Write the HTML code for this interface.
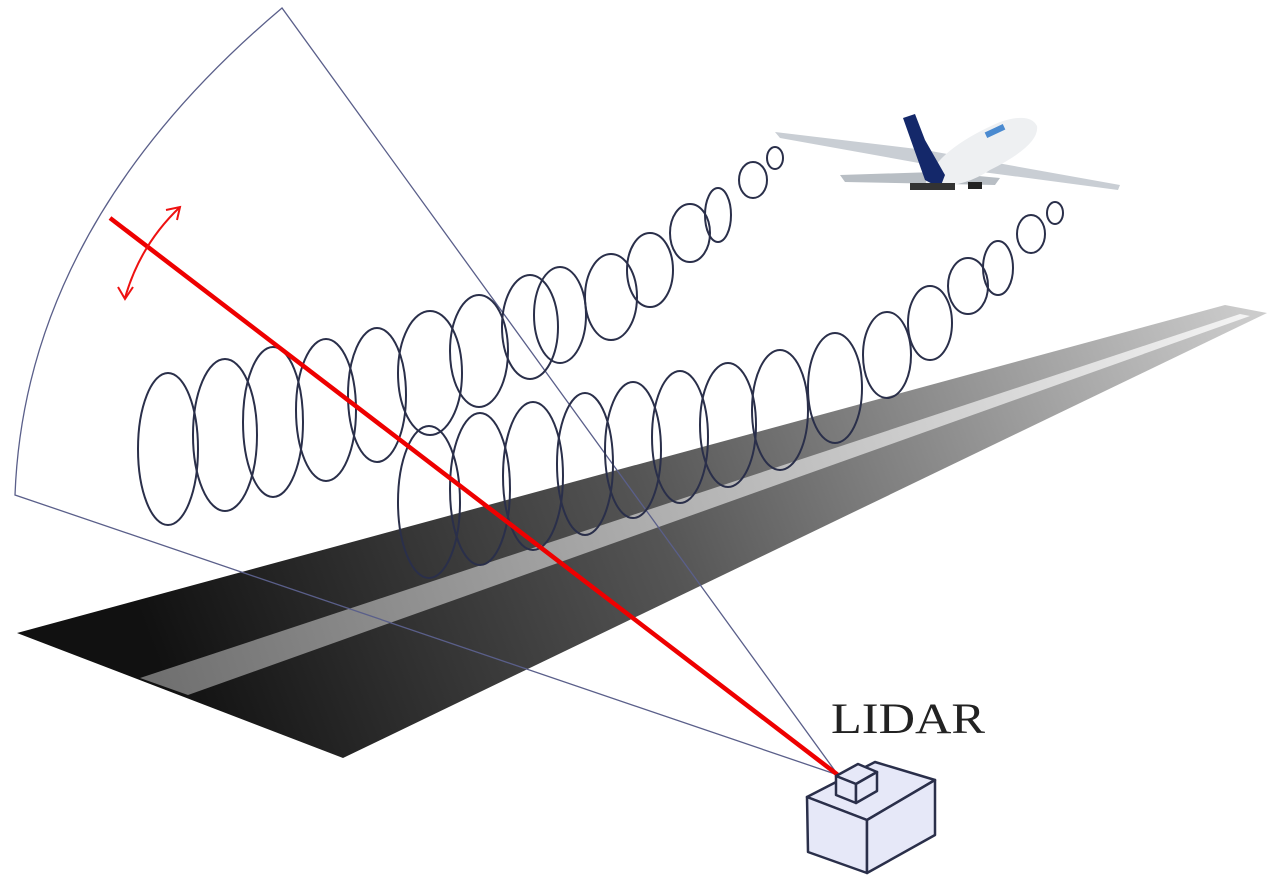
<!DOCTYPE html>
<html><head><meta charset="utf-8"><style>html,body{margin:0;padding:0;background:#fff}svg{display:block}</style></head>
<body>
<svg width="1280" height="884" viewBox="0 0 1280 884" xmlns="http://www.w3.org/2000/svg">
<defs>
<linearGradient id="rw" x1="180" y1="720" x2="1250" y2="310" gradientUnits="userSpaceOnUse">
<stop offset="0" stop-color="#111"/><stop offset="0.45" stop-color="#555"/><stop offset="1" stop-color="#cccccc"/>
</linearGradient>
<linearGradient id="st" x1="160" y1="685" x2="1250" y2="315" gradientUnits="userSpaceOnUse">
<stop offset="0" stop-color="#707070"/><stop offset="0.5" stop-color="#b5b5b5"/><stop offset="1" stop-color="#f4f4f4"/>
</linearGradient>
</defs>
<polygon points="17,633 343,758 1267,313 1225,305" fill="url(#rw)"/>
<polygon points="140,678 188,695 1250,316 1240,314" fill="url(#st)"/>
<g fill="none" stroke="#5a5f8a" stroke-width="1.3">
<path d="M838,775 L15,495 Q25,225 282,8 L838,775"/>
</g>
<g fill="none" stroke="#2a2f4a" stroke-width="2">
<ellipse cx="168" cy="449" rx="30" ry="76"/>
<ellipse cx="225" cy="435" rx="32" ry="76"/>
<ellipse cx="273" cy="422" rx="30" ry="75"/>
<ellipse cx="326" cy="410" rx="30" ry="71"/>
<ellipse cx="377" cy="395" rx="29" ry="67"/>
<ellipse cx="430" cy="373" rx="32" ry="62"/>
<ellipse cx="479" cy="351" rx="29" ry="56"/>
<ellipse cx="530" cy="327" rx="28" ry="52"/>
<ellipse cx="611" cy="297" rx="26" ry="43"/>
<ellipse cx="560" cy="315" rx="26" ry="48"/>
<ellipse cx="650" cy="270" rx="23" ry="37"/>
<ellipse cx="690" cy="233" rx="20" ry="29"/>
<ellipse cx="718" cy="215" rx="13" ry="27"/>
<ellipse cx="753" cy="180" rx="14" ry="18"/>
<ellipse cx="775" cy="158" rx="8" ry="11"/>
<ellipse cx="429" cy="502" rx="31" ry="76"/>
<ellipse cx="480" cy="489" rx="30" ry="76"/>
<ellipse cx="533" cy="476" rx="30" ry="74"/>
<ellipse cx="585" cy="464" rx="28" ry="71"/>
<ellipse cx="633" cy="450" rx="28" ry="68"/>
<ellipse cx="680" cy="437" rx="28" ry="66"/>
<ellipse cx="728" cy="425" rx="28" ry="62"/>
<ellipse cx="780" cy="410" rx="28" ry="60"/>
<ellipse cx="835" cy="388" rx="27" ry="55"/>
<ellipse cx="887" cy="355" rx="24" ry="43"/>
<ellipse cx="930" cy="323" rx="22" ry="37"/>
<ellipse cx="968" cy="286" rx="20" ry="28"/>
<ellipse cx="998" cy="268" rx="15" ry="27"/>
<ellipse cx="1031" cy="234" rx="14" ry="19"/>
<ellipse cx="1055" cy="213" rx="8" ry="11"/>
</g>
<line x1="110" y1="218" x2="838" y2="775" stroke="#ee0000" stroke-width="4.5"/>
<g fill="none" stroke="#ee1111" stroke-width="2">
<path d="M125,298 Q140,245 180,207"/>
<path d="M166,210 L180,207 L177,220"/>
<path d="M118,287 L125,299 L133,287"/>
</g>
<!-- plane -->
<polygon points="775,132 925,150 1120,185 1118,190 930,165 780,138" fill="#c9ced4"/>
<polygon points="840,175 935,172 1000,178 995,185 845,182" fill="#b8bec4"/>
<path d="M925,185 Q935,150 1000,122 Q1030,112 1037,126 Q1040,145 990,170 Q960,190 925,185Z" fill="#eef0f2"/>
<polygon points="903,118 915,114 925,140 945,175 940,188 925,180" fill="#14286a"/>
<rect x="985" y="128" width="20" height="6" fill="#4a8ad0" transform="rotate(-25 995 131)"/>
<rect x="910" y="183" width="45" height="7" fill="#333"/>
<rect x="968" y="182" width="14" height="7" fill="#222"/>
<!-- lidar box -->
<g stroke="#2a2f4a" stroke-width="2.5" stroke-linejoin="round" fill="#e6e8f8">
<polygon points="807,797 867,820 935,780 875,762"/>
<polygon points="807,797 867,820 867,873 808,852"/>
<polygon points="867,820 935,780 935,835 867,873"/>
<polygon points="836,776 856,784 877,772 858,764"/>
<polygon points="836,776 856,784 856,803 836,795"/>
<polygon points="856,784 877,772 877,791 856,803"/>
</g>
<text x="831" y="733" font-family="Liberation Serif, serif" font-size="43" fill="#222" textLength="154" lengthAdjust="spacingAndGlyphs">LIDAR</text>
</svg>
</body></html>
